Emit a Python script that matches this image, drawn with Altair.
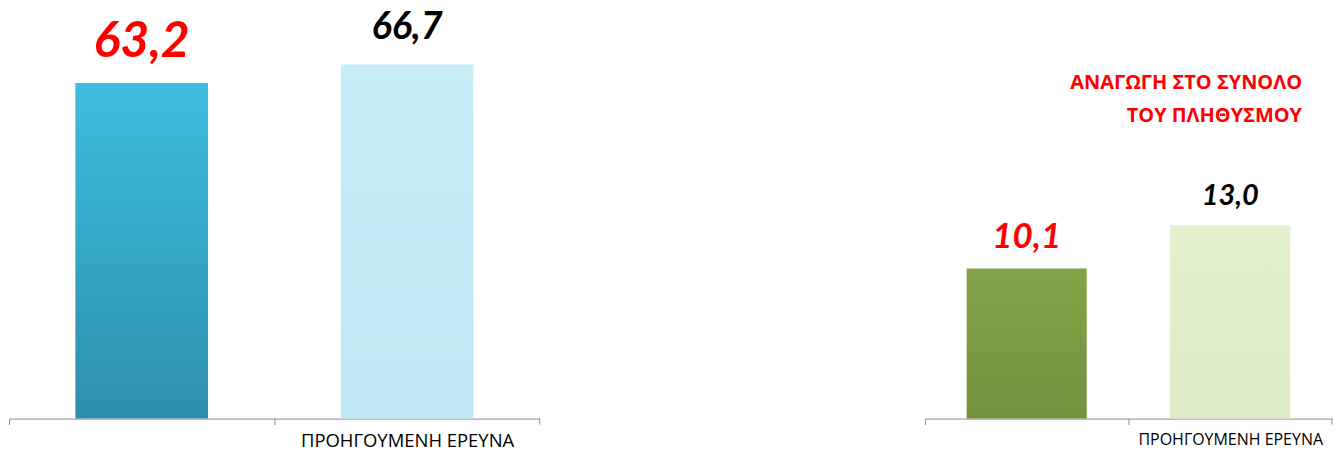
import altair as alt
import pandas as pd

# ---- data ----
left_categories = ["ΤΡΕΧΟΥΣΑ ΕΡΕΥΝΑ", "ΠΡΟΗΓΟΥΜΕΝΗ ΕΡΕΥΝΑ"]
left_values = [63.2, 66.7]
right_categories = ["ΤΡΕΧΟΥΣΑ ΕΡΕΥΝΑ", "ΠΡΟΗΓΟΥΜΕΝΗ ΕΡΕΥΝΑ"]
right_values = [10.1, 13.0]
tick_labels = ["", "ΠΡΟΗΓΟΥΜΕΝΗ ΕΡΕΥΝΑ"]
note_lines = ["ΑΝΑΓΩΓΗ ΣΤΟ ΣΥΝΟΛΟ", "ΤΟΥ ΠΛΗΘΥΣΜΟΥ"]


def fmt(v):
    return f"{v:.1f}".replace(".", ",")


def label_expr(cats, labels):
    c = ",".join(f"'{x}'" for x in cats)
    l = ",".join(f"'{x}'" for x in labels)
    return f"[{l}][indexof([{c}], datum.value)]"


def grad(top, bottom):
    return alt.Gradient(
        gradient="linear",
        stops=[alt.GradientStop(color=top, offset=0),
               alt.GradientStop(color=bottom, offset=1)],
        x1=0, x2=0, y1=0, y2=1,
    )


def panel(cats, vals, width, height, ymax, fills, pad_inner, pad_outer,
          big_size, small_size, text_dy, axis_label_size, note=None):
    df = pd.DataFrame({"cat": cats, "value": vals, "txt": [fmt(v) for v in vals]})
    step = width / 2.0
    x = alt.X(
        "cat:N",
        sort=cats,
        scale=alt.Scale(domain=cats, paddingInner=pad_inner, paddingOuter=pad_outer),
        axis=alt.Axis(
            title=None,
            labelExpr=label_expr(cats, tick_labels),
            labelAngle=0,
            labelLimit=0,
            tickOffset=-step / 2.0,
            labelOffset=step / 2.0,
            domainColor="#8c8c8c",
            tickColor="#8c8c8c",
            tickSize=6,
            labelFont="Open Sans",
            labelFontSize=axis_label_size,
            labelColor="#000000",
            labelPadding=7,
        ),
    )
    y = alt.Y("value:Q", scale=alt.Scale(domain=[0, ymax], nice=False), axis=None)
    base = alt.Chart(df)
    layers = []
    for cat, (top, bottom) in zip(cats, fills):
        layers.append(
            base.transform_filter(alt.datum.cat == cat)
            .mark_bar(color=grad(top, bottom))
            .encode(x=x, y=y)
        )
    first = alt.datum.cat == cats[0]
    texts = base.mark_text(
        font="Lato", fontWeight="bold", fontStyle="italic", baseline="alphabetic",
        dy=text_dy,
    ).encode(
        x=x,
        y=y,
        text="txt:N",
        color=alt.condition(first, alt.value("#FF0000"), alt.value("#000000")),
        size=alt.condition(first, alt.value(big_size), alt.value(small_size)),
    )
    end_tick = alt.Chart(pd.DataFrame({"k": [0]})).mark_rule(color="#8c8c8c").encode(
        x=alt.value(width), y=alt.value(height), y2=alt.value(height + 6)
    )
    layers += [texts, end_tick]
    if note is not None:
        note_text = alt.Chart(pd.DataFrame({"k": [0]})).mark_text(
            font="Open Sans", fontWeight="bold", fontSize=20, color="#FF0000",
            align="right", baseline="alphabetic", lineHeight=33,
        ).encode(x=alt.value(width - 30), y=alt.value(79), text=alt.value(note))
        layers.append(note_text)
    return alt.layer(*layers).properties(width=width, height=height)


left = panel(left_categories, left_values, 532, 409, 409 / 5.32,
             [("#3DBDE1", "#2D90AC"), ("#C7EDF6", "#BEE8F2")],
             0.5, 0.25, 50, 38, -26, 18.5)
right = panel(right_categories, right_values, 408, 409, 409 / 14.9,
              [("#82A347", "#74933D"), ("#E4F1CF", "#DDEBC6")],
              0.41, 0.205, 35, 29, -20, 16, note=note_lines)

chart = alt.hconcat(left, right, spacing=384).properties(
    padding={"left": 0, "right": 0, "top": 0, "bottom": 0}
).configure_view(stroke=None)

chart.save("out.html", embed_options={"renderer": "svg", "actions": False})
